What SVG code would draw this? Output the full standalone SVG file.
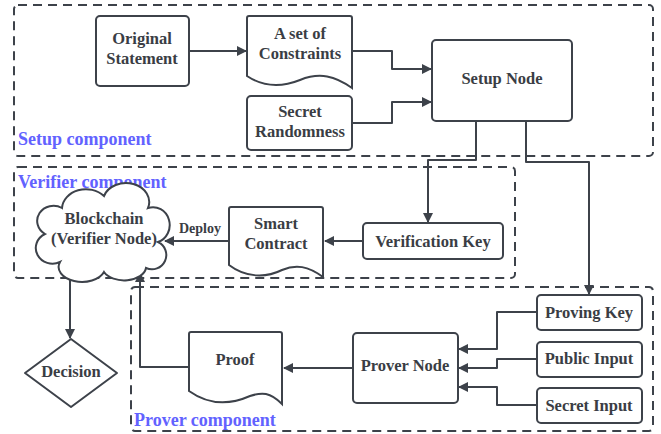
<svg xmlns="http://www.w3.org/2000/svg" width="661" height="434" viewBox="0 0 661 434">
<defs>
<style>
.grp{fill:none;stroke:#3d424a;stroke-width:2;stroke-dasharray:9 6}
.glab{font-family:"Liberation Serif",serif;font-weight:bold;font-size:18px;fill:#6262ff}
.box{fill:#fff;stroke:#3d424a;stroke-width:2}
.t{font-family:"Liberation Serif",serif;font-weight:bold;font-size:16.5px;fill:#3a3d44;text-anchor:middle}
.c{fill:none;stroke:#3d424a;stroke-width:2;stroke-linejoin:round}
</style>
<marker id="ah" viewBox="0 0 10 10" refX="9" refY="5" markerWidth="10" markerHeight="10" markerUnits="userSpaceOnUse" orient="auto">
<path d="M0,0 L10,5 L0,10 Z" fill="#3d424a"/>
</marker>
</defs>
<rect width="661" height="434" fill="#fff"/>
<g id="groups">
<rect class="grp" x="14" y="5" width="639" height="151" rx="4"/>
<rect class="grp" x="14" y="167" width="501" height="111" rx="4"/>
<rect class="grp" x="131" y="287" width="522" height="144" rx="4"/>
<text class="glab" x="18" y="145">Setup component</text>
<text class="glab" x="18" y="188">Verifier component</text>
<text class="glab" x="134" y="426">Prover component</text>
</g>
<g id="connectors">
<path class="c" d="M189,51 H246" marker-end="url(#ah)"/>
<path class="c" d="M352,51 H392 V69 H431" marker-end="url(#ah)"/>
<path class="c" d="M352,123 H392 V102 H431" marker-end="url(#ah)"/>
<path class="c" d="M476,121 V160 H428 V222" marker-end="url(#ah)"/>
<path class="c" d="M526,121 V162 H589 V294" marker-end="url(#ah)"/>
<path class="c" d="M363,241 H325" marker-end="url(#ah)"/>
<path class="c" d="M229,241 H165" marker-end="url(#ah)"/>
<path class="c" d="M70,271 V338" marker-end="url(#ah)"/>
<path class="c" d="M189,367 H140 V273" marker-end="url(#ah)"/>
<path class="c" d="M353,368 H284" marker-end="url(#ah)"/>
<path class="c" d="M537,312 H497 V349 H459" marker-end="url(#ah)"/>
<path class="c" d="M537,359 H497 V368 H459" marker-end="url(#ah)"/>
<path class="c" d="M537,405 H497 V387 H459" marker-end="url(#ah)"/>
<text class="t" x="200" y="233" style="font-size:14px">Deploy</text>
</g>
<g id="original-statement">
<rect class="box" x="96" y="16" width="93" height="70" rx="4"/>
<text class="t" x="142" y="44">Original</text>
<text class="t" x="142" y="64">Statement</text>
</g>
<g id="constraints">
<path class="box" d="M249,16 H350 Q352,16 352,18 V88 C335,76 320,72 300,80 C280,88 262,86 247,76 V18 Q247,16 249,16 Z"/>
<text class="t" x="300" y="39">A set of</text>
<text class="t" x="300" y="59">Constraints</text>
</g>
<g id="secret-randomness">
<rect class="box" x="247" y="96" width="105" height="54" rx="4"/>
<text class="t" x="300" y="117">Secret</text>
<text class="t" x="300" y="137">Randomness</text>
</g>
<g id="setup-node">
<rect class="box" x="432" y="40" width="140" height="81" rx="4"/>
<text class="t" x="502" y="84">Setup Node</text>
</g>
<g id="verification-key">
<rect class="box" x="363" y="223" width="140" height="36" rx="4"/>
<text class="t" x="433" y="247">Verification Key</text>
</g>
<g id="smart-contract">
<path class="box" d="M231,207 H321 Q323,207 323,209 V277 C308,266 296,264 282,270 C266,278 246,278 229,265 V209 Q229,207 231,207 Z"/>
<text class="t" x="276" y="229">Smart</text>
<text class="t" x="276" y="249">Contract</text>
</g>
<g id="blockchain">
<path class="box" d="M60,262 A16,15 0 0 1 45,234 A15,14 0 0 1 62,208 A24,20 0 0 1 104,196 A22,18 0 0 1 148,208 A15,16 0 0 1 158,242 A14,14 0 0 1 146,268 A22,14 0 0 1 104,272 A22,14 0 0 1 60,262 Z"/>
<text class="t" x="104" y="224">Blockchain</text>
<text class="t" x="104" y="244">(Verifier Node)</text>
</g>
<g id="decision">
<path class="box" d="M71,339 L117,373 L71,407 L25,373 Z" stroke-linejoin="round"/>
<text class="t" x="71" y="377">Decision</text>
</g>
<g id="proof">
<path class="box" d="M191,332 H280 Q282,332 282,334 V404 C270,392 262,392 250,396 C232,404 210,406 189,391 V334 Q189,332 191,332 Z"/>
<text class="t" x="235" y="365">Proof</text>
</g>
<g id="prover-node">
<rect class="box" x="353" y="333" width="105" height="70" rx="4"/>
<text class="t" x="405" y="371">Prover Node</text>
</g>
<g id="proving-key">
<rect class="box" x="537" y="295" width="105" height="35" rx="4"/>
<text class="t" x="589" y="318">Proving Key</text>
</g>
<g id="public-input">
<rect class="box" x="537" y="342" width="105" height="35" rx="4"/>
<text class="t" x="589" y="364">Public Input</text>
</g>
<g id="secret-input">
<rect class="box" x="537" y="388" width="105" height="35" rx="4"/>
<text class="t" x="589" y="411">Secret Input</text>
</g>
</svg>
